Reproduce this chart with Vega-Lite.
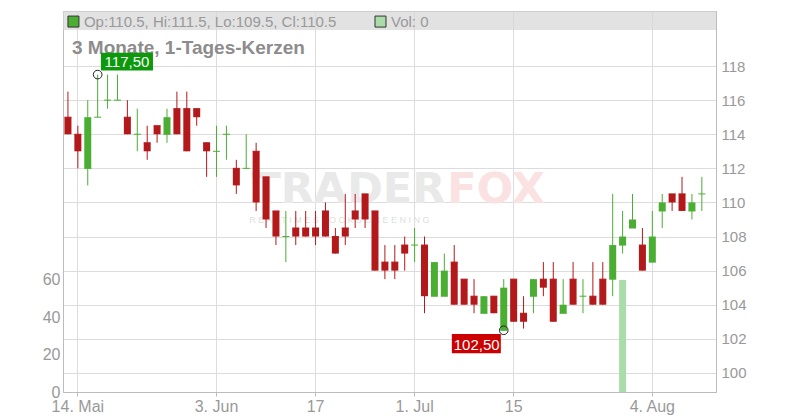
{
  "$schema": "https://vega.github.io/schema/vega-lite/v6.json",
  "width": 653,
  "height": 381,
  "autosize": {"type": "none"},
  "padding": {"left": 63, "top": 11, "right": 84, "bottom": 28},
  "background": "white",
  "config": {
    "font": "Liberation Sans",
    "view": {"stroke": "#bcbcbc", "strokeWidth": 1},
    "axis": {"labelFont": "Liberation Sans", "labelColor": "#999999", "domainColor": "#bcbcbc", "gridColor": "#dcdcdc", "tickColor": "#bcbcbc"}
  },
  "data": {"values": [
    {"d": "2025-05-13", "o": 115, "h": 116.5, "l": 114, "c": 114, "v": 0},
    {"d": "2025-05-14", "o": 114, "h": 114.5, "l": 112, "c": 113, "v": 0},
    {"d": "2025-05-15", "o": 112, "h": 116, "l": 111, "c": 115, "v": 0},
    {"d": "2025-05-16", "o": 115, "h": 117.5, "l": 115, "c": 115, "v": 0},
    {"d": "2025-05-19", "o": 116, "h": 117.5, "l": 115.5, "c": 116, "v": 0},
    {"d": "2025-05-20", "o": 116, "h": 117.5, "l": 116, "c": 116, "v": 0},
    {"d": "2025-05-21", "o": 115, "h": 116, "l": 114, "c": 114, "v": 0},
    {"d": "2025-05-22", "o": 114, "h": 115.5, "l": 113, "c": 114, "v": 0},
    {"d": "2025-05-23", "o": 113.5, "h": 114.5, "l": 112.5, "c": 113, "v": 0},
    {"d": "2025-05-26", "o": 114.5, "h": 114.5, "l": 113.5, "c": 114, "v": 0},
    {"d": "2025-05-27", "o": 114, "h": 115.5, "l": 113.5, "c": 115, "v": 0},
    {"d": "2025-05-28", "o": 115.5, "h": 116.5, "l": 114, "c": 114, "v": 0},
    {"d": "2025-05-29", "o": 115.5, "h": 116.5, "l": 113, "c": 113, "v": 0},
    {"d": "2025-05-30", "o": 115.5, "h": 115.5, "l": 114.5, "c": 115, "v": 0},
    {"d": "2025-06-02", "o": 113.5, "h": 113.5, "l": 111.5, "c": 113, "v": 0},
    {"d": "2025-06-03", "o": 113, "h": 114.5, "l": 111.5, "c": 113, "v": 0},
    {"d": "2025-06-04", "o": 114, "h": 114.5, "l": 112.5, "c": 114, "v": 0},
    {"d": "2025-06-05", "o": 112, "h": 112.5, "l": 110.5, "c": 111, "v": 0},
    {"d": "2025-06-06", "o": 112, "h": 114, "l": 112, "c": 112, "v": 0},
    {"d": "2025-06-09", "o": 113, "h": 113.5, "l": 109.5, "c": 110, "v": 0},
    {"d": "2025-06-10", "o": 111.5, "h": 111.5, "l": 108.5, "c": 109, "v": 0},
    {"d": "2025-06-11", "o": 109.5, "h": 109.5, "l": 107.5, "c": 108, "v": 0},
    {"d": "2025-06-12", "o": 108, "h": 109.5, "l": 106.5, "c": 108, "v": 0},
    {"d": "2025-06-13", "o": 108.5, "h": 109.5, "l": 107.5, "c": 108, "v": 0},
    {"d": "2025-06-16", "o": 108.5, "h": 109.5, "l": 108, "c": 108, "v": 0},
    {"d": "2025-06-17", "o": 108.5, "h": 109.5, "l": 107.5, "c": 108, "v": 0},
    {"d": "2025-06-18", "o": 109.5, "h": 110, "l": 108, "c": 108, "v": 0},
    {"d": "2025-06-19", "o": 108, "h": 108.5, "l": 107, "c": 107, "v": 0},
    {"d": "2025-06-20", "o": 108.5, "h": 110.5, "l": 107.5, "c": 108, "v": 0},
    {"d": "2025-06-23", "o": 109.5, "h": 110.5, "l": 108.5, "c": 109, "v": 0},
    {"d": "2025-06-24", "o": 110.5, "h": 110.5, "l": 108.5, "c": 109, "v": 0},
    {"d": "2025-06-25", "o": 109.5, "h": 109.5, "l": 106, "c": 106, "v": 0},
    {"d": "2025-06-26", "o": 106.5, "h": 107.5, "l": 105.5, "c": 106, "v": 0},
    {"d": "2025-06-27", "o": 106.5, "h": 107.5, "l": 105.5, "c": 106, "v": 0},
    {"d": "2025-06-30", "o": 107.5, "h": 108, "l": 106, "c": 107, "v": 0},
    {"d": "2025-07-01", "o": 107.5, "h": 108.5, "l": 106.5, "c": 107.5, "v": 0},
    {"d": "2025-07-02", "o": 107.5, "h": 108, "l": 103.5, "c": 104.5, "v": 0},
    {"d": "2025-07-03", "o": 104.5, "h": 106.5, "l": 104.5, "c": 106.5, "v": 0},
    {"d": "2025-07-04", "o": 104.5, "h": 107, "l": 104.5, "c": 106, "v": 0},
    {"d": "2025-07-07", "o": 106.5, "h": 107.5, "l": 104, "c": 104, "v": 0},
    {"d": "2025-07-08", "o": 105.5, "h": 105.5, "l": 104, "c": 104, "v": 0},
    {"d": "2025-07-09", "o": 104.5, "h": 105.5, "l": 103.5, "c": 104, "v": 0},
    {"d": "2025-07-10", "o": 103.5, "h": 104.5, "l": 103.5, "c": 104.5, "v": 0},
    {"d": "2025-07-11", "o": 104.5, "h": 104.5, "l": 103.5, "c": 103.5, "v": 0},
    {"d": "2025-07-14", "o": 102.5, "h": 105.5, "l": 102.5, "c": 105, "v": 0},
    {"d": "2025-07-15", "o": 105.5, "h": 105.5, "l": 103, "c": 103, "v": 0},
    {"d": "2025-07-16", "o": 103.5, "h": 104.5, "l": 102.6, "c": 103, "v": 0},
    {"d": "2025-07-17", "o": 104.5, "h": 105.5, "l": 103.5, "c": 105.5, "v": 0},
    {"d": "2025-07-18", "o": 105.5, "h": 106.5, "l": 104.5, "c": 105, "v": 0},
    {"d": "2025-07-21", "o": 105.5, "h": 106.5, "l": 103, "c": 103, "v": 0},
    {"d": "2025-07-22", "o": 103.5, "h": 105.5, "l": 103.5, "c": 104, "v": 0},
    {"d": "2025-07-23", "o": 105.5, "h": 106.5, "l": 104, "c": 104, "v": 0},
    {"d": "2025-07-24", "o": 104.5, "h": 105.5, "l": 103.5, "c": 104.5, "v": 0},
    {"d": "2025-07-25", "o": 104.5, "h": 106.5, "l": 104, "c": 104, "v": 0},
    {"d": "2025-07-28", "o": 105.5, "h": 106.5, "l": 104, "c": 104, "v": 0},
    {"d": "2025-07-29", "o": 105.5, "h": 110.5, "l": 104.5, "c": 107.5, "v": 0},
    {"d": "2025-07-30", "o": 107.5, "h": 109.5, "l": 107, "c": 108, "v": 60},
    {"d": "2025-07-31", "o": 108.5, "h": 110.5, "l": 108.5, "c": 109, "v": 0},
    {"d": "2025-08-01", "o": 107.5, "h": 108.5, "l": 106, "c": 106, "v": 0},
    {"d": "2025-08-04", "o": 106.5, "h": 109.5, "l": 106.5, "c": 108, "v": 0},
    {"d": "2025-08-05", "o": 109.5, "h": 110.5, "l": 108.5, "c": 110, "v": 0},
    {"d": "2025-08-06", "o": 110.5, "h": 110.5, "l": 109.5, "c": 110, "v": 0},
    {"d": "2025-08-07", "o": 110.5, "h": 111.5, "l": 109.5, "c": 109.5, "v": 0},
    {"d": "2025-08-08", "o": 109.5, "h": 110.5, "l": 109, "c": 110, "v": 0},
    {"d": "2025-08-11", "o": 110.5, "h": 111.5, "l": 109.5, "c": 110.5, "v": 0}
  ]},
  "encoding": {
    "x": {
      "field": "d", "type": "ordinal",
      "scale": {"type": "band", "paddingInner": 0, "paddingOuter": 0.465, "align": 0},
      "axis": {
        "title": null,
        "values": ["2025-05-14", "2025-06-03", "2025-06-17", "2025-07-01", "2025-07-15", "2025-08-04"],
        "labelExpr": "datum.value == '2025-05-14' ? '14. Mai' : datum.value == '2025-06-03' ? '3. Jun' : datum.value == '2025-06-17' ? '17' : datum.value == '2025-07-01' ? '1. Jul' : datum.value == '2025-07-15' ? '15' : '4. Aug'",
        "labelAngle": 0, "labelFontSize": 16, "labelPadding": 2,
        "grid": true, "ticks": true, "tickSize": 4, "bandPosition": 0.5
      }
    }
  },
  "layer": [
    {
      "mark": {"type": "bar", "width": 7, "color": "#aadcaa"},
      "encoding": {
        "y": {"field": "v", "type": "quantitative", "scale": {"domain": [0, 204], "nice": false},
          "axis": {"orient": "left", "title": null, "values": [0, 20, 40, 60], "grid": false, "ticks": false, "labelPadding": 3, "labelFontSize": 16}}
      }
    },
    {
      "layer": [
        {
          "data": {"values": [{}]},
          "mark": {"type": "rect", "color": "#d6d6d6", "opacity": 0.7},
          "encoding": {
            "x": {"value": 0}, "x2": {"value": "width"},
            "y": {"datum": 121.23, "type": "quantitative", "scale": {"domain": [98.88, 121.23], "nice": false, "zero": false}, "axis": {"orient": "right", "title": null, "values": [100, 102, 104, 106, 108, 110, 112, 114, 116, 118], "grid": true, "ticks": false, "labelPadding": 5, "labelFontSize": 15}},
            "y2": {"datum": 120.12}
          }
        },
        {
          "data": {"values": [{"t": "TRADER"}]},
          "mark": {"type": "text", "font": "DejaVu Sans", "fontWeight": "bold", "fontSize": 43, "color": "#e9e9e9", "align": "right", "baseline": "alphabetic", "dx": 1},
          "encoding": {
            "text": {"field": "t"},
            "x": {"datum": "2025-07-04", "type": "ordinal"},
            "y": {"datum": 109.95, "type": "quantitative", "scale": {"domain": [98.88, 121.23], "nice": false, "zero": false}, "axis": {"orient": "right", "title": null, "values": [100, 102, 104, 106, 108, 110, 112, 114, 116, 118], "grid": true, "ticks": false, "labelPadding": 5, "labelFontSize": 15}}
          }
        },
        {
          "data": {"values": [{"t": "FOX"}]},
          "mark": {"type": "text", "font": "DejaVu Sans", "fontWeight": "bold", "fontSize": 43, "color": "#fbe2e2", "align": "left", "baseline": "alphabetic", "dx": 3},
          "encoding": {
            "text": {"field": "t"},
            "x": {"datum": "2025-07-04", "type": "ordinal"},
            "y": {"datum": 109.95, "type": "quantitative", "scale": {"domain": [98.88, 121.23], "nice": false, "zero": false}, "axis": {"orient": "right", "title": null, "values": [100, 102, 104, 106, 108, 110, 112, 114, 116, 118], "grid": true, "ticks": false, "labelPadding": 5, "labelFontSize": 15}}
          }
        },
        {
          "data": {"values": [{"t": "R E A L T I M E   S T O C K S C R E E N I N G"}]},
          "mark": {"type": "text", "fontSize": 9, "color": "#dedede", "align": "center", "baseline": "alphabetic", "dx": 4},
          "encoding": {
            "text": {"field": "t"},
            "x": {"datum": "2025-06-19", "type": "ordinal"},
            "y": {"datum": 108.79, "type": "quantitative", "scale": {"domain": [98.88, 121.23], "nice": false, "zero": false}, "axis": {"orient": "right", "title": null, "values": [100, 102, 104, 106, 108, 110, 112, 114, 116, 118], "grid": true, "ticks": false, "labelPadding": 5, "labelFontSize": 15}}
          }
        },
        {
          "mark": {"type": "rule", "strokeWidth": 1},
          "encoding": {
            "y": {"field": "h", "type": "quantitative", "scale": {"domain": [98.88, 121.23], "nice": false, "zero": false}, "axis": {"orient": "right", "title": null, "values": [100, 102, 104, 106, 108, 110, 112, 114, 116, 118], "grid": true, "ticks": false, "labelPadding": 5, "labelFontSize": 15}},
            "y2": {"field": "l"},
            "color": {"condition": {"test": "datum.c >= datum.o", "value": "#4aae33"}, "value": "#b3191b"}
          }
        },
        {
          "mark": {"type": "bar", "width": 7},
          "encoding": {
            "y": {"field": "o", "type": "quantitative", "scale": {"domain": [98.88, 121.23], "nice": false, "zero": false}, "axis": {"orient": "right", "title": null, "values": [100, 102, 104, 106, 108, 110, 112, 114, 116, 118], "grid": true, "ticks": false, "labelPadding": 5, "labelFontSize": 15}},
            "y2": {"field": "c"},
            "color": {"condition": {"test": "datum.c >= datum.o", "value": "#4aae33"}, "value": "#b3191b"}
          }
        },
        {
          "mark": {"type": "tick", "size": 7, "thickness": 1, "opacity": 1, "orient": "horizontal"},
          "encoding": {
            "y": {"field": "o", "type": "quantitative", "scale": {"domain": [98.88, 121.23], "nice": false, "zero": false}, "axis": {"orient": "right", "title": null, "values": [100, 102, 104, 106, 108, 110, 112, 114, 116, 118], "grid": true, "ticks": false, "labelPadding": 5, "labelFontSize": 15}},
            "color": {"condition": {"test": "datum.c >= datum.o", "value": "#4aae33"}, "value": "#b3191b"}
          }
        },
        {
          "data": {"values": [{"t": "3 Monate, 1-Tages-Kerzen"}]},
          "mark": {"type": "text", "fontWeight": "bold", "fontSize": 19, "color": "#8c8c8c", "align": "left", "baseline": "alphabetic", "dx": 4},
          "encoding": {
            "text": {"field": "t"},
            "x": {"datum": "2025-05-13", "type": "ordinal"},
            "y": {"datum": 118.69, "type": "quantitative", "scale": {"domain": [98.88, 121.23], "nice": false, "zero": false}, "axis": {"orient": "right", "title": null, "values": [100, 102, 104, 106, 108, 110, 112, 114, 116, 118], "grid": true, "ticks": false, "labelPadding": 5, "labelFontSize": 15}}
          }
        },
        {
          "data": {"values": [{"t": "Op:110.5, Hi:111.5, Lo:109.5, Cl:110.5", "k": "2025-05-13", "f": "#4aae33"}, {"t": "Vol: 0", "k": "2025-06-25", "f": "#aadcaa"}]},
          "layer": [
            {
              "mark": {"type": "point", "shape": "square", "size": 121, "filled": true, "opacity": 1, "stroke": "#333333", "strokeWidth": 1, "xOffset": 5.5},
              "encoding": {
                "x": {"field": "k", "type": "ordinal"},
                "y": {"datum": 120.61, "type": "quantitative", "scale": {"domain": [98.88, 121.23], "nice": false, "zero": false}, "axis": {"orient": "right", "title": null, "values": [100, 102, 104, 106, 108, 110, 112, 114, 116, 118], "grid": true, "ticks": false, "labelPadding": 5, "labelFontSize": 15}},
                "fill": {"field": "f", "type": "nominal", "scale": null}
              }
            },
            {
              "mark": {"type": "text", "fontSize": 15, "color": "#999999", "align": "left", "baseline": "alphabetic", "dx": 16},
              "encoding": {
                "text": {"field": "t"},
                "x": {"field": "k", "type": "ordinal"},
                "y": {"datum": 120.27, "type": "quantitative", "scale": {"domain": [98.88, 121.23], "nice": false, "zero": false}, "axis": {"orient": "right", "title": null, "values": [100, 102, 104, 106, 108, 110, 112, 114, 116, 118], "grid": true, "ticks": false, "labelPadding": 5, "labelFontSize": 15}}
              }
            }
          ]
        },
        {
          "data": {"values": [{"d": "2025-05-16", "p": 117.5, "lab": "117,50"}]},
          "layer": [
            {
              "mark": {"type": "point", "shape": "M0.127,-0.838L2.127,-0.838L2.127,-0.154L0.127,-0.154Z", "size": 2704, "filled": true, "opacity": 1, "color": "#0c990c", "strokeWidth": 0},
              "encoding": {"y": {"field": "p", "type": "quantitative", "scale": {"domain": [98.88, 121.23], "nice": false, "zero": false}, "axis": {"orient": "right", "title": null, "values": [100, 102, 104, 106, 108, 110, 112, 114, 116, 118], "grid": true, "ticks": false, "labelPadding": 5, "labelFontSize": 15}}}
            },
            {
              "mark": {"type": "text", "fontSize": 15, "color": "white", "align": "center", "baseline": "alphabetic", "dx": 29.3, "dy": -7.8},
              "encoding": {"text": {"field": "lab"}, "y": {"field": "p", "type": "quantitative", "scale": {"domain": [98.88, 121.23], "nice": false, "zero": false}, "axis": {"orient": "right", "title": null, "values": [100, 102, 104, 106, 108, 110, 112, 114, 116, 118], "grid": true, "ticks": false, "labelPadding": 5, "labelFontSize": 15}}}
            },
            {
              "mark": {"type": "point", "shape": "circle", "size": 75, "filled": false, "opacity": 1, "color": "#222222", "strokeWidth": 1},
              "encoding": {"y": {"field": "p", "type": "quantitative", "scale": {"domain": [98.88, 121.23], "nice": false, "zero": false}, "axis": {"orient": "right", "title": null, "values": [100, 102, 104, 106, 108, 110, 112, 114, 116, 118], "grid": true, "ticks": false, "labelPadding": 5, "labelFontSize": 15}}}
            }
          ]
        },
        {
          "data": {"values": [{"d": "2025-07-14", "p": 102.5, "lab": "102,50"}]},
          "layer": [
            {
              "mark": {"type": "point", "shape": "M-1.996,0.142L-0.112,0.142L-0.112,0.885L-1.996,0.885Z", "size": 2704, "filled": true, "opacity": 1, "color": "#cc0000", "strokeWidth": 0},
              "encoding": {"y": {"field": "p", "type": "quantitative", "scale": {"domain": [98.88, 121.23], "nice": false, "zero": false}, "axis": {"orient": "right", "title": null, "values": [100, 102, 104, 106, 108, 110, 112, 114, 116, 118], "grid": true, "ticks": false, "labelPadding": 5, "labelFontSize": 15}}}
            },
            {
              "mark": {"type": "text", "fontSize": 15, "color": "white", "align": "center", "baseline": "alphabetic", "dx": -27.1, "dy": 19.7},
              "encoding": {"text": {"field": "lab"}, "y": {"field": "p", "type": "quantitative", "scale": {"domain": [98.88, 121.23], "nice": false, "zero": false}, "axis": {"orient": "right", "title": null, "values": [100, 102, 104, 106, 108, 110, 112, 114, 116, 118], "grid": true, "ticks": false, "labelPadding": 5, "labelFontSize": 15}}}
            },
            {
              "mark": {"type": "point", "shape": "circle", "size": 75, "filled": false, "opacity": 1, "color": "#222222", "strokeWidth": 1},
              "encoding": {"y": {"field": "p", "type": "quantitative", "scale": {"domain": [98.88, 121.23], "nice": false, "zero": false}, "axis": {"orient": "right", "title": null, "values": [100, 102, 104, 106, 108, 110, 112, 114, 116, 118], "grid": true, "ticks": false, "labelPadding": 5, "labelFontSize": 15}}}
            }
          ]
        }
      ]
    }
  ],
  "resolve": {"scale": {"y": "independent"}, "axis": {"y": "independent"}}
}
